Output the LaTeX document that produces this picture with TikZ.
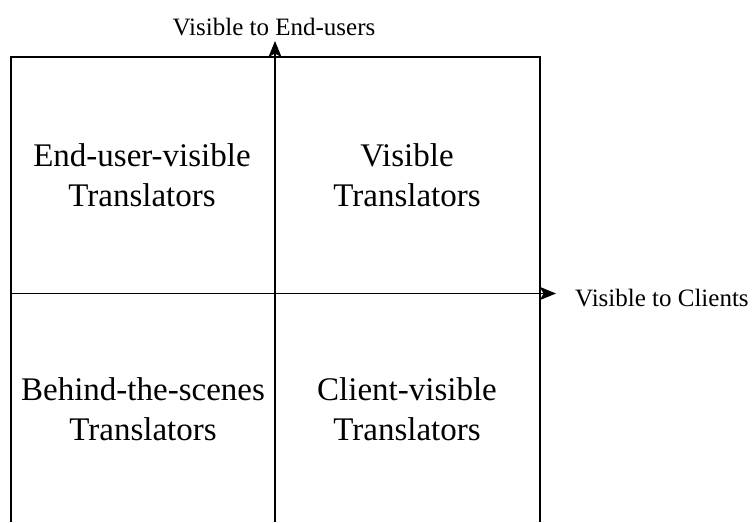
\documentclass[tikz,border=0pt]{standalone}
\usepackage{fontspec}
\setmainfont{Liberation Serif}
\usetikzlibrary{arrows.meta}
\begin{document}
\begin{tikzpicture}[x=1pt,y=-1pt,
  frameline/.style={line width=1.2pt,black},
  axisline/.style={line width=1.2pt,black,-{Stealth[length=16pt,width=13pt,inset=3.5pt]}},
  quadlabel/.style={align=center,inner sep=0pt,font=\fontsize{33}{40}\selectfont},
  axislabel/.style={inner sep=0pt,font=\fontsize{25}{28}\selectfont}]
\useasboundingbox (0,0) rectangle (752,522);
% frame corners
\coordinate (fbl) at (11,522);
\coordinate (ftl) at (11,57);
\coordinate (ftr) at (540,57);
\coordinate (fbr) at (540,522);
\draw[frameline] (fbl) -- (ftl) -- (ftr) -- (fbr);
% axes
\coordinate (hstart) at (11,293.5);
\coordinate (hend) at (556,293.5);
\coordinate (vstart) at (275,522);
\coordinate (vend) at (275,41);
\draw[axisline] (hstart) -- (hend);
\draw[axisline] (vstart) -- (vend);
% axis labels
\node[axislabel,anchor=base] (ylab) at (274,35) {Visible to End-users};
\node[axislabel,anchor=base west] (xlab) at (575,306.5) {Visible to Clients};
% quadrant labels
\node[quadlabel] (q1) at (142,175) {End-user-visible\\Translators};
\node[quadlabel] (q2) at (407,175) {Visible\\Translators};
\node[quadlabel] (q3) at (143,409) {Behind-the-scenes\\Translators};
\node[quadlabel] (q4) at (407,409) {Client-visible\\Translators};
\end{tikzpicture}
\end{document}
